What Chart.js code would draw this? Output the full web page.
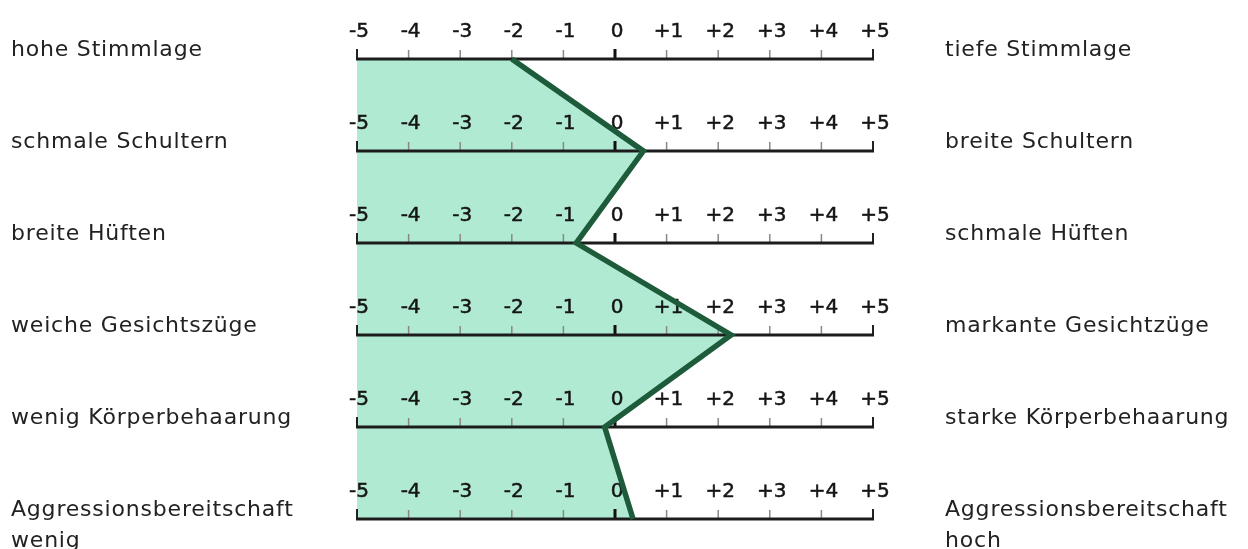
<!DOCTYPE html>
<html><head><meta charset="utf-8">
<script src="https://cdn.jsdelivr.net/npm/chart.js@4.4.0/dist/chart.umd.min.js"></script>
<style>html,body{margin:0;padding:0;background:#fff;overflow:hidden}canvas{display:block}</style>
</head><body>
<canvas id="c" width="1248" height="549"></canvas>
<script>
const traits = ['Stimmlage','Schultern','Hüften','Gesichtszüge','Körperbehaarung','Aggressionsbereitschaft'];
const leftLabels = [['hohe Stimmlage'],['schmale Schultern'],['breite Hüften'],['weiche Gesichtszüge'],['wenig Körperbehaarung'],['Aggressionsbereitschaft','wenig']];
const rightLabels = [['tiefe Stimmlage'],['breite Schultern'],['schmale Hüften'],['markante Gesichtzüge'],['starke Körperbehaarung'],['Aggressionsbereitschaft','hoch']];
const values = [-2, 0.55, -0.75, 2.25, -0.2, 0.35];
const tickValues = [-5,-4,-3,-2,-1,0,1,2,3,4,5];
const tickLabels = ['-5','-4','-3','-2','-1','0','+1','+2','+3','+4','+5'];

const rowScales = {
  id: 'rowScales',
  beforeDatasetsDraw(chart) {
    const ctx = chart.ctx, xs = chart.scales.x, ys = chart.scales.y;
    ctx.save();
    traits.forEach((t, i) => {
      const y = ys.getPixelForValue(i);
      const x0 = xs.getPixelForValue(tickValues[0]);
      const x1 = xs.getPixelForValue(tickValues[tickValues.length - 1]);
      tickValues.forEach((v, j) => {
        const x = xs.getPixelForValue(v);
        let w = 1.5, col = '#888', h = 9;
        if (v === 0) { w = 3; col = '#111'; h = 10; }
        else if (j === 0 || j === tickValues.length - 1) { w = 2; col = '#222'; h = 10; }
        ctx.beginPath(); ctx.strokeStyle = col; ctx.lineWidth = w;
        ctx.moveTo(x, y); ctx.lineTo(x, y - h); ctx.stroke();
        ctx.fillStyle = '#151515';
        ctx.strokeStyle = '#151515'; ctx.lineWidth = 0.5;
        ctx.font = '20px "DejaVu Sans"';
        ctx.textAlign = 'center'; ctx.textBaseline = 'alphabetic';
        ctx.fillText(tickLabels[j], x + 2, y - 22);
        ctx.strokeText(tickLabels[j], x + 2, y - 22);
      });
      ctx.beginPath(); ctx.strokeStyle = '#1c1c1c'; ctx.lineWidth = 3;
      ctx.moveTo(x0 - 1, y); ctx.lineTo(x1 + 1, y); ctx.stroke();
    });
    ctx.restore();
  },
  afterDraw(chart) {
    const ctx = chart.ctx, ys = chart.scales.y;
    ctx.save();
    ctx.fillStyle = '#222';
    ctx.font = '22px "DejaVu Sans"';
    try { ctx.letterSpacing = '0.8px'; } catch (e) {}
    ctx.textAlign = 'left'; ctx.textBaseline = 'alphabetic';
    traits.forEach((t, i) => {
      const y = ys.getPixelForValue(i) - 3;
      leftLabels[i].forEach((s, k) => ctx.fillText(s, 11, y + k * 31));
      rightLabels[i].forEach((s, k) => ctx.fillText(s, 945, y + k * 31));
    });
    ctx.restore();
  }
};

new Chart(document.getElementById('c'), {
  type: 'line',
  data: {
    labels: traits,
    datasets: [{
      data: values,
      borderColor: '#1d5b3b',
      borderWidth: 5.5,
      borderJoinStyle: 'miter',
      backgroundColor: '#b0ead2',
      fill: { value: -5 },
      pointRadius: 0,
      tension: 0
    }]
  },
  options: {
    indexAxis: 'y',
    responsive: false,
    animation: false,
    devicePixelRatio: 1,
    layout: { padding: { left: 357, right: 375, top: 59, bottom: 30 } },
    scales: {
      x: { type: 'linear', min: -5, max: 5, display: false },
      y: { type: 'category', offset: false, display: false }
    },
    plugins: {
      legend: { display: false },
      tooltip: { enabled: false },
      filler: { drawTime: 'beforeDatasetsDraw' }
    }
  },
  plugins: [rowScales]
});
</script>
</body></html>
